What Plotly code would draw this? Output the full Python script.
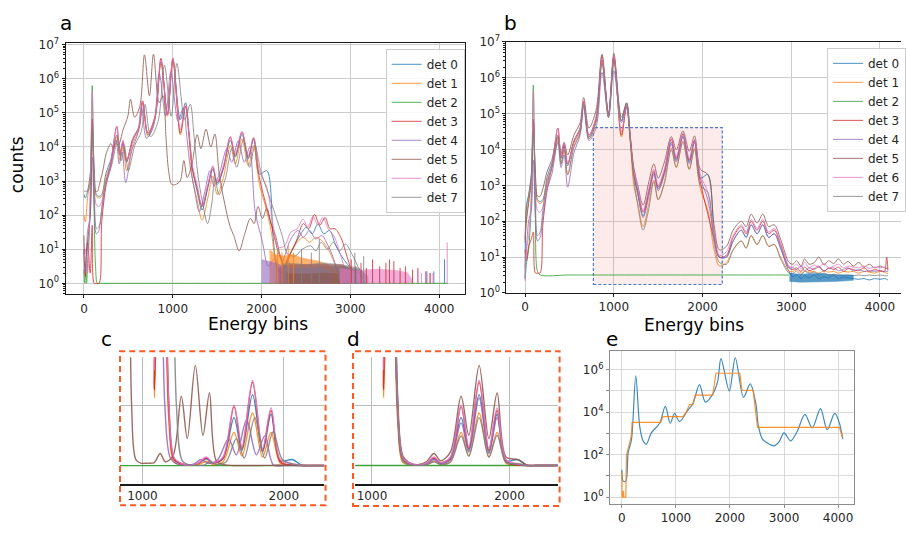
import plotly.graph_objects as go

# ---------------- DATA (counts stored as log10 values) ----------------
det_names = ["det 0", "det 1", "det 2", "det 3", "det 4", "det 5", "det 6", "det 7"]
det_colors = ["#1f77b4", "#ff7f0e", "#2ca02c", "#d62728", "#9467bd", "#8c564b", "#e377c2", "#7f7f7f"]

# ---- panel b (aligned spectra) : shared energy-bin grid ----
bins_b = [0, 15, 40, 70, 93, 115, 140, 170, 200, 250, 300, 370, 405, 440, 480, 550, 620, 660, 720, 800,
          867, 940, 1001, 1085, 1144, 1185, 1225, 1270, 1330, 1395, 1451, 1500, 1570, 1648, 1704, 1779,
          1850, 1910, 1975, 2060, 2130, 2190, 2270, 2345, 2436, 2492, 2548, 2615, 2679, 2745, 2809, 2880, 2975]
bins_b_tail = [3020, 3060, 3110, 3150, 3200, 3260, 3310, 3370, 3420, 3480, 3530, 3590, 3640, 3700,
               3760, 3820, 3880, 3940, 4000, 4050, 4075, 4090]

b_det0 = [0.4, 2.4, 2.75, 3.3, 4.75, 3.4, 2.6, 2.55, 2.6, 3.25, 3.6, 4.35, 3.75, 4.1, 3.55, 4.2, 4.55, 5.3, 4.35, 4.85,
          6.5, 4.95, 6.55, 4.8, 5.3, 4.35, 3.3, 2.75, 2.15, 2.8, 3.35, 2.9, 3.35, 4.2, 3.7, 4.37, 3.65, 4.23, 3.2, 3.3,
          1.7, 1.0, 1.0, 1.45, 1.75, 1.55, 1.9, 1.65, 1.9, 1.55, 1.65, 1.25, 0.6,
          0.45, 0.5, 0.4, 0.48, 0.42, 0.5, 0.4, 0.45, 0.42, 0.5, 0.4, 0.45, 0.42, 0.4, 0.38, 0.4, 0.36, 0.4, 0.38, 0.4, 0.38, 0.36]
b_det1 = [1.5, 2.1, 2.6, 3.2, 4.85, 3.3, 2.55, 2.5, 2.55, 3.15, 3.5, 4.3, 3.6, 4.0, 3.3, 4.1, 4.5, 5.3, 4.3, 4.8,
          6.45, 4.9, 6.5, 4.35, 5.2, 4.2, 3.0, 2.5, 1.85, 2.5, 3.15, 2.6, 3.1, 4.04, 3.5, 4.24, 3.45, 4.04, 2.9, 2.3,
          1.2, 0.75, 0.85, 1.2, 1.45, 1.25, 1.6, 1.35, 1.6, 1.3, 1.35, 1.0, 0.6,
          0.6, 0.65, 0.55, 0.62, 0.58, 0.6, 0.55, 0.62, 0.58, 0.6, 0.55, 0.6, 0.58, 0.6, 0.55, 0.6, 0.58, 0.55, 0.6, 0.58, 0.55, 0.55]
b_det2_bins = [0, 15, 40, 70, 93, 115, 140, 170, 500, 1000, 1500, 2000, 2500, 2975]
b_det2 = [0.4, 0.8, 1.2, 2.5, 5.8, 2.2, 0.6, 0.5, 0.5, 0.5, 0.5, 0.5, 0.5, 0.5]
b_det3 = [1.2, 0.9, 1.3, 1.5, 1.7, 0.56, 0.55, 0.56, 1.9, 2.9, 3.5, 4.6, 3.8, 4.15, 3.6, 4.25, 4.6, 5.35, 4.4, 4.9,
          6.6, 4.95, 6.6, 4.4, 5.2, 4.3, 3.3, 2.85, 2.25, 2.85, 3.4, 2.95, 3.4, 4.29, 3.75, 4.44, 3.7, 4.26, 3.1, 2.2,
          1.5, 1.0, 1.05, 1.55, 1.85, 1.65, 2.0, 1.75, 2.0, 1.65, 1.75, 1.35, 0.7,
          0.65, 0.7, 0.6, 0.72, 0.62, 0.68, 0.75, 0.6, 0.7, 0.65, 0.72, 0.6, 0.68, 0.65, 0.62, 0.7, 0.6, 0.65, 0.62, 0.6, 1.0, 0.62]
b_det4 = [0.7, 1.2, 2.0, 2.3, 3.7, 2.2, 1.45, 1.55, 2.1, 2.9, 3.3, 4.2, 3.5, 3.85, 2.95, 3.9, 4.4, 5.2, 4.25, 4.6,
          6.15, 4.9, 6.2, 4.75, 5.15, 4.3, 3.4, 2.8, 2.1, 2.7, 3.3, 2.85, 3.3, 4.15, 3.65, 4.35, 3.6, 4.2, 3.2, 2.6,
          1.55, 1.0, 1.0, 1.45, 1.75, 1.55, 1.9, 1.65, 1.9, 1.55, 1.65, 1.25, 0.7,
          0.7, 0.65, 0.75, 0.62, 0.7, 0.66, 0.72, 0.62, 0.68, 0.7, 0.62, 0.66, 0.7, 0.62, 0.65, 0.6, 0.62, 0.6, 0.62, 0.6, 0.6, 0.6]
b_det5 = [1.4, 2.0, 2.5, 3.1, 4.85, 3.4, 2.7, 2.7, 2.9, 3.4, 3.7, 4.4, 3.9, 4.2, 3.85, 4.4, 4.75, 5.45, 4.6, 5.1,
          6.66, 5.0, 6.68, 4.9, 5.3, 4.4, 3.5, 3.0, 2.45, 3.1, 3.6, 3.2, 3.65, 4.36, 4.0, 4.52, 3.95, 4.38, 3.45, 3.3,
          1.9, 1.2, 1.3, 1.75, 2.0, 1.85, 2.2, 1.95, 2.2, 1.85, 1.9, 1.5, 0.85,
          0.8, 0.9, 0.75, 0.95, 0.8, 0.85, 1.0, 0.78, 0.9, 0.82, 0.95, 0.8, 0.88, 0.75, 0.85, 0.72, 0.8, 0.7, 0.75, 0.7, 0.68, 0.7]
b_det6 = [0.33, 1.2, 1.6, 2.8, 5.65, 3.0, 2.3, 2.25, 2.4, 3.0, 3.55, 4.6, 3.8, 4.2, 3.6, 4.2, 4.6, 5.35, 4.4, 4.9,
          6.55, 4.95, 6.6, 4.5, 5.25, 4.35, 3.4, 2.95, 2.3, 2.9, 3.45, 3.0, 3.45, 4.3, 3.8, 4.45, 3.75, 4.28, 3.3, 2.8,
          1.7, 1.05, 1.15, 1.6, 1.9, 1.7, 2.05, 1.8, 2.05, 1.7, 1.8, 1.4, 0.75,
          0.72, 0.8, 0.68, 0.85, 0.7, 0.78, 0.72, 0.82, 0.7, 0.75, 0.8, 0.7, 0.75, 0.72, 0.7, 0.75, 0.68, 0.72, 0.7, 0.72, 0.7, 0.7]
b_det7 = [1.5, 2.4, 2.7, 3.2, 4.5, 2.8, 1.6, 1.7, 2.3, 3.1, 3.45, 4.25, 3.6, 4.0, 3.3, 4.05, 4.45, 5.25, 4.3, 4.75,
          6.4, 4.9, 6.45, 4.8, 5.25, 4.3, 3.2, 2.45, 1.75, 2.35, 3.1, 2.6, 3.05, 3.99, 3.5, 4.2, 3.45, 4.0, 3.0, 2.8,
          1.4, 0.85, 0.8, 1.2, 1.45, 1.25, 1.6, 1.35, 1.6, 1.3, 1.35, 0.95, 0.55,
          0.55, 0.6, 0.5, 0.6, 0.55, 0.58, 0.5, 0.55, 0.5, 0.52, 0.5, 0.5, 0.5, 0.48, 0.5, 0.48, 0.5, 0.48, 0.5, 0.48, 0.48, 0.48]
# dense blue noise block above bin 3000 in panel b
b_det0_noise_bins = [2980, 3100, 3300, 3500, 3700]
b_det0_noise_lo = [0.32, 0.3, 0.3, 0.32, 0.35]
b_det0_noise_hi = [0.55, 0.52, 0.55, 0.5, 0.5]
# highlighted region in panel b (bins, counts)
b_box_bins = [770, 2223]
b_box_counts = [1.72, 40900]

# ---- panel a (raw spectra, each detector with its own gain) ----
a_det0_bins = bins_b[:40] + [2130, 2175, 2230, 2290, 2350, 2420, 2504, 2570, 2634, 2700, 2765, 2830, 2900, 2970, 3040, 3110, 3160]
a_det0 = [2.6, 2.5, 2.7, 3.2, 4.75, 3.4, 2.6, 2.55, 2.6, 3.25, 3.6, 4.35, 3.75, 4.1, 3.55, 4.2, 4.55, 5.3, 4.35, 4.85,
          6.5, 4.95, 6.55, 4.8, 5.3, 4.35, 3.3, 2.75, 2.15, 2.8, 3.35, 2.9, 3.35, 4.2, 3.7, 4.37, 3.65, 4.23, 3.2, 3.3,
          1.35, 0.45, 0.3, 0.7, 1.0, 1.35, 1.64, 1.45, 1.74, 1.45, 1.55, 1.15, 0.8, 0.55, 0.35, 0.3, 0.0]
a_det1_bins = bins_b[:39] + [2040, 2110, 2150, 2200, 2260, 2330, 2400, 2470, 2540, 2610, 2680, 2750, 2820, 2880]
a_det1 = [2.0, 1.8, 2.5, 3.1, 4.85, 3.3, 2.55, 2.5, 2.55, 3.15, 3.5, 4.3, 3.6, 4.0, 3.3, 4.1, 4.5, 5.3, 4.3, 4.8,
          6.45, 4.9, 6.5, 4.35, 5.2, 4.2, 3.0, 2.5, 1.85, 2.5, 3.15, 2.6, 3.1, 4.04, 3.5, 4.24, 3.45, 4.04, 2.9,
          2.3, 1.5, 0.8, 0.5, 0.6, 0.9, 1.2, 1.35, 1.2, 1.35, 1.25, 1.0, 0.6, 0.2]
a_det2_bins = [0, 10, 20, 30, 45, 60, 75, 85, 93, 102, 115, 130, 150, 170, 1000, 2000, 3000, 4095]
a_det2 = [0.4, 0.0, 0.5, 0.0, 0.9, 1.5, 2.8, 4.6, 5.8, 4.6, 2.2, 0.5, 0.0, 0.0, 0.0, 0.0, 0.0, 0.0]
a_det3_bins = bins_b[:40] + [2130, 2190, 2260, 2330, 2400, 2470, 2530, 2597, 2655, 2716, 2770, 2828, 2900, 2960, 3020]
a_det3 = [1.0, 0.2, 1.2, 0.3, 1.7, 0.0, 0.0, 0.0, 1.8, 2.9, 3.5, 4.6, 3.8, 4.15, 3.6, 4.25, 4.6, 5.35, 4.4, 4.9,
          6.6, 4.95, 6.6, 4.4, 5.2, 4.3, 3.3, 2.85, 2.25, 2.85, 3.4, 2.95, 3.4, 4.29, 3.75, 4.44, 3.7, 4.26, 3.1, 2.2,
          1.5, 0.9, 0.5, 0.9, 1.3, 1.75, 1.6, 2.02, 1.7, 1.93, 1.6, 1.6, 1.3, 0.8, 0.3]
a_det4_bins = [0, 15, 40, 70, 93, 114, 139, 168, 197, 246, 295, 363, 397, 431, 470, 539, 607, 646, 704, 782,
               848, 919, 978, 1060, 1118, 1158, 1197, 1241, 1299, 1362, 1417, 1465, 1533, 1609, 1664, 1737, 1806, 1865, 1928, 2011,
               2075, 2140, 2200, 2260, 2330, 2410, 2470, 2540, 2610, 2680, 2740, 2800, 2860]
a_det4 = [1.0, 0.3, 1.5, 2.0, 3.7, 2.2, 1.45, 1.55, 2.1, 2.9, 3.3, 4.2, 3.5, 3.85, 2.95, 3.9, 4.4, 5.2, 4.25, 4.6,
          6.15, 4.9, 6.2, 4.75, 5.15, 4.3, 3.4, 2.8, 2.1, 2.7, 3.3, 2.85, 3.3, 3.95, 3.55, 4.18, 3.55, 3.99, 2.1, 1.2,
          0.5, 0.7, 0.4, 0.8, 1.3, 1.55, 1.35, 1.55, 1.3, 1.4, 1.15, 0.8, 0.3]
a_det5_bins = [0, 15, 40, 70, 93, 110, 129, 152, 174, 212, 250, 304, 330, 357, 387, 440, 494, 524, 570, 630,
               681, 737, 783, 847, 892, 923, 953, 988, 1033, 1083, 1125, 1162, 1216, 1275, 1317, 1374, 1428, 1474, 1523, 1588,
               1641, 1687, 1748, 1805, 1874, 1916, 1959, 2010, 2058, 2109, 2157, 2211, 2283]
a_det5 = [1.4, 0.5, 1.2, 2.0, 4.8, 3.3, 2.7, 2.7, 2.9, 3.3, 3.8, 4.1, 3.95, 4.1, 4.05, 4.5, 4.9, 5.4, 4.87, 5.2,
          6.7, 5.5, 6.72, 5.3, 5.5, 4.3, 3.3, 2.9, 2.9, 3.0, 3.6, 3.1, 3.5, 4.36, 3.95, 4.52, 4.0, 4.38, 3.2, 2.3,
          1.7, 1.4, 0.95, 1.4, 1.9, 1.75, 2.25, 1.9, 2.2, 1.75, 1.4, 0.8, 0.3]
a_det6_bins = bins_b[:40] + [2130, 2190, 2260, 2330, 2400, 2466, 2520, 2578, 2635, 2690, 2750, 2820, 2880, 2940]
a_det6 = [0.6, 1.0, 0.3, 2.8, 5.65, 3.0, 2.3, 2.25, 2.4, 3.0, 3.55, 4.6, 3.8, 4.2, 3.6, 4.2, 4.6, 5.35, 4.4, 4.9,
          6.55, 4.95, 6.6, 4.5, 5.25, 4.35, 3.4, 2.95, 2.3, 2.9, 3.45, 3.0, 3.45, 4.3, 3.8, 4.45, 3.75, 4.28, 3.3, 2.8,
          1.7, 1.05, 1.1, 1.5, 1.6, 1.88, 1.65, 1.97, 1.7, 1.93, 1.6, 1.36, 0.9, 0.4]
a_det7_bins = [0, 15, 40, 70, 93, 116, 142, 174, 205, 258, 310, 384, 421, 457, 499, 573, 646, 688, 751, 835,
               906, 982, 1046, 1135, 1197, 1240, 1282, 1329, 1392, 1440, 1475, 1520, 1590, 1665, 1720, 1795, 1865, 1925, 1990, 2080,
               2232, 2295, 2379, 2458, 2553, 2612, 2671, 2741, 2808, 2878, 2945, 3019, 3119]
a_det7 = [2.7, 2.7, 2.7, 2.9, 4.5, 2.8, 1.6, 1.7, 2.3, 3.1, 3.45, 4.25, 3.6, 4.0, 3.3, 4.05, 4.45, 5.25, 4.3, 4.75,
          6.4, 4.9, 6.45, 4.8, 5.25, 4.3, 3.2, 2.45, 1.75, 2.35, 3.1, 2.6, 3.05, 3.95, 3.4, 4.2, 3.4, 4.05, 3.3, 2.6,
          1.4, 0.85, 0.8, 1.0, 1.1, 0.95, 1.2, 1.0, 1.2, 0.95, 1.15, 0.85, 0.3]

# noise blocks near the floor in panel a: (bins, upper log10 count), drawn down to 1 count
a_noise = {
    0: ([2160, 2250, 2340, 2900, 3000, 3100, 3160], [0.5, 0.4, 0.45, 0.5, 0.45, 0.4, 0.3]),
    1: ([2090, 2150, 2250, 2350, 2450, 2550, 2650, 2750, 2850], [1.0, 0.85, 0.8, 0.85, 0.75, 0.7, 0.65, 0.55, 0.3]),
    3: ([2200, 2300, 2900, 3000], [0.45, 0.55, 0.55, 0.45]),
    4: ([2000, 2075, 2150, 2250, 2330, 2500, 2700, 2800], [0.7, 0.65, 0.6, 0.5, 0.45, 0.45, 0.45, 0.3]),
    7: ([2232, 2300, 2500, 2700, 2900, 3100, 3200], [0.55, 0.6, 0.55, 0.6, 0.55, 0.45, 0.2]),
    6: ([2880, 2940, 3100, 3300, 3500, 3640, 3700], [0.45, 0.42, 0.38, 0.42, 0.38, 0.32, 0.1]),
    5: ([2283, 2336, 2500, 2700, 2860, 2880], [0.3, 0.28, 0.27, 0.3, 0.27, 0.0]),
}
# isolated single-bin spikes in panel a: (bins, log10 count)
a_spikes = {
    0: ([3862, 3940, 4060], [0.35, 0.35, 0.7]),
    1: ([2180, 2230, 2300, 2360], [1.0, 0.9, 1.1, 0.9]),
    3: ([3010, 3060, 3120, 3180, 3250, 3330, 3400, 3440, 3490, 3560, 3620, 3700, 3760, 3850, 3900],
        [0.7, 0.5, 0.6, 0.45, 0.7, 0.5, 0.6, 0.7, 0.65, 0.45, 0.5, 0.4, 0.45, 0.35, 0.3]),
    6: ([3760, 3800, 3850, 3890, 3930, 4090], [0.4, 0.3, 0.35, 0.3, 0.3, 1.2]),
    7: ([2450, 2560, 2650, 3050, 3150], [1.0, 0.9, 1.3, 0.9, 0.8]),
}

# ---- panel e ----
e_bins = [0, 25, 74, 117, 178, 258, 331, 393, 454, 546, 699, 804, 896, 975, 1067, 1221, 1313, 1436, 1546, 1681,
          1773, 1834, 1988, 2098, 2252, 2374, 2479, 2528, 2601, 2724, 2816, 2908, 3000, 3123, 3245, 3387, 3521,
          3675, 3798, 3939, 4025, 4086]
e_spectrum = [1.29, 0.76, 0.76, 2.1, 2.7, 5.71, 3.33, 2.65, 2.5, 3.03, 3.48, 4.27, 3.48, 3.94, 3.56, 4.1, 4.39, 5.3,
              4.47, 4.85, 5.45, 6.52, 5.0, 6.55, 4.7, 5.33, 4.4, 3.33, 2.73, 2.5, 2.42, 2.6, 3.03, 2.65, 3.1, 3.9,
              3.26, 4.17, 3.18, 3.94, 3.48, 2.73]
e_step_bins = [0, 5, 20, 30, 37, 50, 74, 86, 117, 147, 178, 190, 718, 761, 1129, 1190, 1252, 1313, 1356, 1681,
               1742, 2184, 2221, 2429, 2509, 4025, 4086]
e_step = [1.2, 0.0, 0.0, 0.3, 0.0, 0.0, 0.0, 2.0, 2.27, 2.58, 2.95, 3.52, 3.52, 3.79, 3.79, 4.0, 4.36, 4.36, 4.8,
          4.8, 5.83, 5.83, 5.03, 5.03, 3.29, 3.29, 2.8]

log_ticks = [1, 10, 100, 1000, 10000, 100000, 1000000, 10000000]
log_ticktext = ["10<sup>%d</sup>" % i for i in range(8)]
x_ticks = [0, 1000, 2000, 3000, 4000]
zoom_ticks = [1000, 2000]

# ---------------- FIGURE ----------------
a_series = [(a_det0_bins, a_det0), (a_det1_bins, a_det1), (a_det2_bins, a_det2), (a_det3_bins, a_det3),
            (a_det4_bins, a_det4), (a_det5_bins, a_det5), (a_det6_bins, a_det6), (a_det7_bins, a_det7)]
b_full = bins_b + bins_b_tail
b_series = [(b_full, b_det0), (b_full, b_det1), (b_det2_bins, b_det2), (b_full, b_det3),
            (b_full, b_det4), (b_full, b_det5), (b_full, b_det6), (b_full, b_det7)]
for xs, ys in a_series + b_series:
    assert len(xs) == len(ys), (len(xs), len(ys))


def cnt(logs):
    return [10 ** v for v in logs]


FONT = "DejaVu Sans"
fig = go.Figure()


def add_line(xs, logs, color, xa, ya, width, opacity, name=None, legend=None, shape="spline"):
    fig.add_trace(go.Scatter(
        x=xs, y=cnt(logs), mode="lines", xaxis=xa, yaxis=ya,
        line=dict(color=color, width=width, shape=shape, smoothing=0.9),
        opacity=opacity, name=name, showlegend=name is not None,
        legend=legend if legend else "legend", hoverinfo="skip"))


# panel a
for i, (xs, ys) in enumerate(a_series):
    add_line(xs, ys, det_colors[i], "x", "y", 1.0, 0.8, det_names[i], "legend")
for i in [0, 1, 3, 4, 7, 6, 5]:
    bx, top = a_noise[i]
    fig.add_trace(go.Scatter(x=bx + bx[::-1], y=cnt(top) + [1] * len(bx), mode="lines", fill="toself",
                             fillcolor=det_colors[i], line=dict(width=0.5, color=det_colors[i]),
                             opacity=0.6, xaxis="x", yaxis="y", showlegend=False, hoverinfo="skip"))
for i, (sx, st) in a_spikes.items():
    px, py = [], []
    for xv, tv in zip(sx, st):
        px += [xv, xv, None]
        py += [1, 10 ** tv, None]
    fig.add_trace(go.Scatter(x=px, y=py, mode="lines", line=dict(color=det_colors[i], width=1),
                             opacity=0.8, xaxis="x", yaxis="y", showlegend=False, hoverinfo="skip"))

# panel b
for i, (xs, ys) in enumerate(b_series):
    add_line(xs, ys, det_colors[i], "x2", "y2", 1.0, 0.8, det_names[i], "legend2")
nb = b_det0_noise_bins
fig.add_trace(go.Scatter(x=nb + nb[::-1], y=cnt(b_det0_noise_hi) + cnt(b_det0_noise_lo[::-1]), mode="lines",
                         fill="toself", fillcolor=det_colors[0], line=dict(width=0.5, color=det_colors[0]),
                         opacity=0.75, xaxis="x2", yaxis="y2", showlegend=False, hoverinfo="skip"))

# panels c and d (linear zooms of a and b)
for i, (xs, ys) in enumerate(a_series):
    add_line(xs, ys, det_colors[i], "x3", "y3", 1.4, 0.85)
for i, (xs, ys) in enumerate(b_series):
    add_line(xs, ys, det_colors[i], "x4", "y4", 1.4, 0.85)

# panel e
add_line(e_bins, e_spectrum, det_colors[0], "x5", "y5", 1.2, 0.85)
add_line(e_step_bins, e_step, det_colors[1], "x5", "y5", 1.2, 0.85, shape="linear")

tickfont = dict(family=FONT, size=12, color="#262626")
grid = "#cccccc"
frame = dict(showline=True, linecolor="#1a1a1a", linewidth=1, ticks="outside", ticklen=3,
             tickcolor="#1a1a1a", zeroline=False, tickfont=tickfont, showgrid=True, gridcolor=grid, gridwidth=1)

fig.update_layout(
    width=906, height=534, margin=dict(l=0, r=0, t=0, b=0),
    paper_bgcolor="white", plot_bgcolor="white",
    font=dict(family=FONT, size=12, color="#262626"),
    xaxis=dict(domain=[0.0728, 0.5166], range=[-207, 4296], anchor="y", tickvals=x_ticks, mirror=True, **frame),
    yaxis=dict(domain=[0.4494, 0.9345], type="log", range=[-0.32, 7.05], anchor="x", tickvals=log_ticks,
               ticktext=log_ticktext, mirror=True,
               minor=dict(ticks="outside", ticklen=2, tickcolor="#1a1a1a", dtick="D1", showgrid=False), **frame),
    xaxis2=dict(domain=[0.5621, 1.0], range=[-210, 4237], anchor="y2", tickvals=x_ticks, mirror=True, **frame),
    yaxis2=dict(domain=[0.4519, 0.9363], type="log", range=[0, 7], anchor="x2", tickvals=log_ticks,
                ticktext=log_ticktext, mirror=False,
                minor=dict(ticks="outside", ticklen=2, tickcolor="#1a1a1a", dtick="D1", showgrid=False), **frame),
    xaxis3=dict(domain=[0.1332, 0.3598], range=[841, 2286], anchor="y3", tickvals=zoom_ticks, showline=True,
                linecolor="#1a1a1a", linewidth=1.5, ticks="", zeroline=False, showgrid=True, gridcolor="#bdbdbd",
                tickfont=tickfont),
    yaxis3=dict(domain=[0.0824, 0.3277], range=[-6190, 35800], anchor="x3", tickvals=[0, 20000],
                showticklabels=False, showline=False, zeroline=False, showgrid=True, gridcolor="#bdbdbd", ticks=""),
    xaxis4=dict(domain=[0.3944, 0.6189], range=[879, 2350], anchor="y4", tickvals=zoom_ticks, showline=True,
                linecolor="#1a1a1a", linewidth=1.5, ticks="", zeroline=False, showgrid=True, gridcolor="#bdbdbd",
                tickfont=tickfont),
    yaxis4=dict(domain=[0.0824, 0.3277], range=[-6190, 35800], anchor="x4", tickvals=[0, 20000],
                showticklabels=False, showline=False, zeroline=False, showgrid=True, gridcolor="#bdbdbd", ticks=""),
    xaxis5=dict(domain=[0.6769, 0.9478], range=[-221, 4294], anchor="y5", tickvals=x_ticks, showline=True,
                mirror=True, linecolor="#8c8c8c", linewidth=1, ticks="outside", ticklen=3, tickcolor="#8c8c8c",
                zeroline=False, showgrid=True, gridcolor="#d9d9d9", tickfont=tickfont),
    yaxis5=dict(domain=[0.0449, 0.3395], type="log", range=[-0.305, 6.87], anchor="x5",
                tickvals=[1, 100, 10000, 1000000], ticktext=["10<sup>0</sup>", "10<sup>2</sup>", "10<sup>4</sup>", "10<sup>6</sup>"],
                minor=dict(tickvals=[10, 1000, 100000], showgrid=True, gridcolor="#d9d9d9", ticks="outside",
                           ticklen=3, tickcolor="#8c8c8c"),
                showline=True, mirror=True, linecolor="#8c8c8c", linewidth=1, ticks="outside", ticklen=3,
                tickcolor="#8c8c8c", zeroline=False, showgrid=True, gridcolor="#d9d9d9", tickfont=tickfont),
    legend=dict(x=0.428, y=0.9232, xanchor="left", yanchor="top", bgcolor="rgba(255,255,255,0.85)",
                bordercolor="#cccccc", borderwidth=1, font=dict(family=FONT, size=12, color="#262626"),
                itemwidth=30, tracegroupgap=0),
    legend2=dict(x=0.918, y=0.925, xanchor="left", yanchor="top", bgcolor="rgba(255,255,255,0.85)",
                 bordercolor="#cccccc", borderwidth=1, font=dict(family=FONT, size=12, color="#262626"),
                 itemwidth=30, tracegroupgap=0),
    showlegend=True,
)

# highlighted region in b, dashed frames around c and d
fig.add_shape(type="rect", xref="x2", yref="y2", x0=b_box_bins[0], x1=b_box_bins[1],
              y0=b_box_counts[0], y1=b_box_counts[1], layer="between",
              fillcolor="rgba(240,128,128,0.15)", line=dict(color="#4a78c8", width=1.2, dash="3px,2px"))
for x0, x1, y0, y1 in [(0.1332, 0.3613, 0.0418, 0.3395), (0.3918, 0.6211, 0.0406, 0.3395)]:
    fig.add_shape(type="rect", xref="paper", yref="paper", x0=x0, x1=x1, y0=y0, y1=y1,
                  line=dict(color="#ff5a24", width=2, dash="6px,4px"))

ann = dict(xref="paper", yref="paper", showarrow=False, xanchor="center", yanchor="middle")
for txt, x, y in [("a", 0.0728, 0.9738), ("b", 0.5662, 0.9738), ("c", 0.1181, 0.3633),
                  ("d", 0.3918, 0.3633), ("e", 0.6788, 0.3633)]:
    fig.add_annotation(text=txt, x=x, y=y, font=dict(family=FONT, size=20, color="black"), **ann)
fig.add_annotation(text="Energy bins", x=0.2859, y=0.3914, font=dict(family=FONT, size=17, color="black"), **ann)
fig.add_annotation(text="Energy bins", x=0.7704, y=0.3895, font=dict(family=FONT, size=17, color="black"), **ann)
fig.add_annotation(text="counts", x=0.0188, y=0.7004, textangle=-90, font=dict(family=FONT, size=17, color="black"), **ann)

fig.write_html("out.html", config={"displayModeBar": False},
               post_script="document.body.style.margin='0px';")
